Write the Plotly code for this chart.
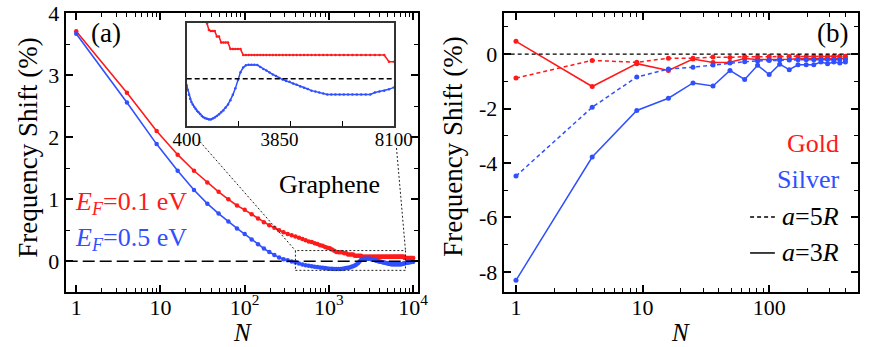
import math

import plotly.graph_objects as go

W, H = 872, 347
FONT = "Liberation Serif"
RED = "#ff1a1a"
BLUE = "#3050ff"

# --- panel (a): graphene, N = n^2 ---
n_sites_a = [
    1, 4, 9, 16, 25, 36, 49, 64, 81, 100,
    121, 144, 169, 196, 225, 256, 289, 324, 361, 400,
    441, 484, 529, 576, 625, 676, 729, 784, 841, 900,
    961, 1024, 1089, 1156, 1225, 1296, 1369, 1444, 1521, 1600,
    1681, 1764, 1849, 1936, 2025, 2116, 2209, 2304, 2401, 2500,
    2601, 2704, 2809, 2916, 3025, 3136, 3249, 3364, 3481, 3600,
    3721, 3844, 3969, 4096, 4225, 4356, 4489, 4624, 4761, 4900,
    5041, 5184, 5329, 5476, 5625, 5776, 5929, 6084, 6241, 6400,
    6561, 6724, 6889, 7056, 7225, 7396, 7569, 7744, 7921, 8100,
    8281, 8464, 8649, 8836, 9025, 9216, 9409, 9604, 9801, 10000,
]
shift_ef01 = [
    3.71, 2.72, 2.10, 1.72, 1.46, 1.27, 1.12, 1.00, 0.90, 0.83,
    0.76, 0.69, 0.63, 0.58, 0.54, 0.50, 0.47, 0.44, 0.42, 0.40,
    0.38, 0.36, 0.34, 0.32, 0.31, 0.29, 0.28, 0.26, 0.25, 0.23,
    0.22, 0.21, 0.19, 0.17, 0.15, 0.147, 0.147, 0.147, 0.13, 0.13,
    0.111, 0.111, 0.111, 0.111, 0.091, 0.091, 0.091, 0.091, 0.091, 0.073,
    0.073, 0.073, 0.073, 0.073, 0.073, 0.073, 0.073, 0.073, 0.073, 0.073,
    0.073, 0.073, 0.073, 0.073, 0.073, 0.073, 0.073, 0.073, 0.073, 0.073,
    0.073, 0.073, 0.073, 0.073, 0.073, 0.073, 0.073, 0.073, 0.073, 0.073,
    0.073, 0.073, 0.073, 0.073, 0.073, 0.073, 0.073, 0.073, 0.052, 0.052,
    0.052, 0.052, 0.052, 0.052, 0.052, 0.052, 0.052, 0.052, 0.052, 0.052,
]
shift_ef05 = [
    3.67, 2.56, 1.89, 1.46, 1.15, 0.93, 0.77, 0.64, 0.53, 0.44,
    0.35, 0.275, 0.205, 0.15, 0.10, 0.06, 0.035, 0.015, -0.004, -0.021,
    -0.035, -0.050, -0.063, -0.072, -0.080, -0.087, -0.093, -0.099, -0.104, -0.109,
    -0.115, -0.119, -0.122, -0.124, -0.126, -0.126, -0.123, -0.120, -0.115, -0.110,
    -0.104, -0.098, -0.089, -0.080, -0.067, -0.050, -0.030, -0.004, 0.020, 0.034,
    0.041, 0.043, 0.043, 0.043, 0.042, 0.036, 0.030, 0.025, 0.019, 0.013,
    0.008, 0.002, -0.003, -0.007, -0.010, -0.015, -0.019, -0.024, -0.028, -0.032,
    -0.037, -0.040, -0.043, -0.046, -0.049, -0.049, -0.049, -0.049, -0.049, -0.049,
    -0.049, -0.049, -0.049, -0.049, -0.049, -0.043, -0.040, -0.037, -0.033, -0.027,
    -0.024, -0.021, -0.019, -0.017, -0.015, -0.013, -0.011, -0.010, -0.009, -0.008,
]

# --- panel (b): gold / silver, a = 5R and a = 3R ---
n_sites_b = [1, 4, 9, 16, 25, 36, 49, 64, 81, 100,
             121, 144, 169, 196, 225, 256, 289, 324, 361, 400]
gold_5r = [-0.88, -0.23, -0.30, -0.15, -0.15, -0.11, -0.12, -0.09, -0.10, -0.09,
           -0.09, -0.09, -0.08, -0.09, -0.08, -0.08, -0.08, -0.08, -0.08, -0.08]
gold_3r = [0.47, -1.19, -0.35, -0.60, -0.18, -0.31, -0.30, -0.16, -0.20, -0.20,
           -0.18, -0.19, -0.17, -0.18, -0.17, -0.17, -0.16, -0.17, -0.16, -0.16]
silver_5r = [-4.48, -1.95, -0.84, -0.55, -0.48, -0.40, -0.33, -0.28, -0.25, -0.23,
             -0.22, -0.22, -0.21, -0.21, -0.21, -0.20, -0.20, -0.20, -0.20, -0.20]
silver_3r = [-8.31, -3.78, -2.07, -1.62, -1.06, -1.17, -0.60, -0.93, -0.41, -0.75,
             -0.37, -0.57, -0.39, -0.39, -0.39, -0.29, -0.35, -0.29, -0.33, -0.29]

# tick labels
a_xticks = [1, 10, 100, 1000, 10000]
a_xtext = ["1", "10", "10<sup>2</sup>", "10<sup>3</sup>", "10<sup>4</sup>"]
b_xticks = [1, 10, 100]
b_yticks = [-8, -6, -4, -2, 0]
b_ytext = ["-8", "-6", "-4", "-2", "0"]
inset_xticks = [400, 3850, 8100]

# plot areas in pixels (left, top, right, bottom)
BOX_A = (65.7, 13.3, 418.3, 292.3)
BOX_B = (503.7, 13.3, 857.7, 292.3)
BOX_IN = (186.7, 22.5, 393.8, 126.0)
A_XRANGE = (math.log10(0.75), math.log10(11500))
A_YRANGE = (-0.5, 4.0)
IN_YRANGE = (-0.146, 0.173)


def _xdom(box):
    return [box[0] / W, box[2] / W]


def _ydom(box):
    return [1 - box[3] / H, 1 - box[1] / H]


def _a_to_paper(n, v):
    fx = (math.log10(n) - A_XRANGE[0]) / (A_XRANGE[1] - A_XRANGE[0])
    fy = (v - A_YRANGE[0]) / (A_YRANGE[1] - A_YRANGE[0])
    xd, yd = _xdom(BOX_A), _ydom(BOX_A)
    return xd[0] + fx * (xd[1] - xd[0]), yd[0] + fy * (yd[1] - yd[0])


def _axis(**kw):
    base = dict(
        showline=True, linecolor="black", linewidth=2, mirror="allticks",
        ticks="inside", ticklen=7, tickwidth=1.5, tickcolor="black",
        showgrid=False, zeroline=False, automargin=False,
        tickfont=dict(family=FONT, size=22, color="black"),
    )
    base.update(kw)
    return base


def _minor(vals, length=4):
    return dict(ticks="inside", ticklen=length, tickwidth=1.2, tickcolor="black",
                tickvals=vals, showgrid=False)


fig = go.Figure()

# --- (a) main curves ---
for ys, color in ((shift_ef01, RED), (shift_ef05, BLUE)):
    fig.add_trace(go.Scatter(
        x=n_sites_a, y=ys, mode="lines+markers", xaxis="x", yaxis="y",
        line=dict(color=color, width=1.6), marker=dict(color=color, size=4.5),
        showlegend=False,
    ))

# --- (a) inset, same data on a linear axis ---
for ys, color in ((shift_ef01, RED), (shift_ef05, BLUE)):
    fig.add_trace(go.Scatter(
        x=n_sites_a, y=ys, mode="lines+markers", xaxis="x3", yaxis="y3",
        line=dict(color=color, width=1.5), marker=dict(color=color, size=2.5),
        cliponaxis=True, showlegend=False,
    ))

# --- (b) ---
for ys, color, dash in ((gold_5r, RED, "4px,3px"), (gold_3r, RED, "solid"),
                        (silver_5r, BLUE, "4px,3px"), (silver_3r, BLUE, "solid")):
    fig.add_trace(go.Scatter(
        x=n_sites_b, y=ys, mode="lines+markers", xaxis="x2", yaxis="y2",
        line=dict(color=color, width=1.5, dash=dash),
        marker=dict(color=color, size=5), showlegend=False,
    ))

a_minor_x = [m * d for d in (1, 10, 100, 1000) for m in range(2, 10)]
b_minor_x = [m * d for d in (1, 10) for m in range(2, 10)] + [200, 300, 400]

fig.update_layout(
    width=W, height=H,
    margin=dict(l=0, r=0, t=0, b=0, pad=0),
    paper_bgcolor="white", plot_bgcolor="white",
    font=dict(family=FONT, size=22, color="black"),
    xaxis=_axis(
        type="log", range=list(A_XRANGE), domain=_xdom(BOX_A), anchor="y",
        tickvals=a_xticks, ticktext=a_xtext, minor=_minor(a_minor_x),
        ticklabelstandoff=-6,
    ),
    yaxis=_axis(
        range=list(A_YRANGE), domain=_ydom(BOX_A), anchor="x",
        tickvals=[0, 1, 2, 3, 4], minor=_minor([-0.5, 0.5, 1.5, 2.5, 3.5]),
    ),
    xaxis2=_axis(
        type="log", range=[math.log10(0.8), math.log10(500)], domain=_xdom(BOX_B),
        anchor="y2", tickvals=b_xticks, ticktext=["1", "10", "100"],
        minor=_minor(b_minor_x), ticklabelstandoff=-6,
    ),
    yaxis2=_axis(
        range=[-8.75, 1.5], domain=_ydom(BOX_B), anchor="x2",
        tickvals=b_yticks, ticktext=b_ytext, minor=_minor([-7, -5, -3, -1, 1]),
    ),
    xaxis3=_axis(
        range=[400, 8100], domain=_xdom(BOX_IN), anchor="y3",
        linewidth=1.5, linecolor="#333", mirror=True,
        tickvals=inset_xticks, ticks="", ticklabelstandoff=-5,
        minor=_minor([2325, 4250, 6175], length=5),
        tickfont=dict(family=FONT, size=19, color="black"),
    ),
    yaxis3=_axis(
        range=list(IN_YRANGE), domain=_ydom(BOX_IN), anchor="x3",
        linewidth=1.5, linecolor="#333", mirror=True,
        ticks="", showticklabels=False,
    ),
)

# --- reference lines, zoom box, legend samples ---
ax, ay = _a_to_paper(400, IN_YRANGE[1])
bx, _ = _a_to_paper(8100, IN_YRANGE[1])
shapes = [
    dict(type="line", xref="x domain", yref="y", x0=0, x1=1, y0=0, y1=0,
         line=dict(color="black", width=1.5, dash="12px,5px")),
    dict(type="line", xref="x2 domain", yref="y2", x0=0, x1=1, y0=0, y1=0,
         line=dict(color="black", width=1.3, dash="4px,3px")),
    dict(type="line", xref="x3 domain", yref="y3", x0=0, x1=1, y0=0, y1=0,
         line=dict(color="black", width=1.5, dash="5px,3px")),
    dict(type="rect", xref="x", yref="y",
         x0=400, x1=8100, y0=IN_YRANGE[0], y1=IN_YRANGE[1],
         line=dict(color="#222", width=1, dash="2px,2px")),
    dict(type="line", xref="paper", yref="paper",
         x0=200 / W, y0=1 - 141.7 / H, x1=ax, y1=ay,
         line=dict(color="#222", width=1, dash="2px,2px")),
    dict(type="line", xref="paper", yref="paper",
         x0=396.5 / W, y0=1 - 148 / H, x1=bx, y1=ay,
         line=dict(color="#222", width=1, dash="2px,2px")),
    dict(type="line", xref="x2 domain", yref="y2 domain", x0=0.696, x1=0.766,
         y0=0.27, y1=0.27, line=dict(color="black", width=1.5, dash="4px,3px")),
    dict(type="line", xref="x2 domain", yref="y2 domain", x0=0.696, x1=0.766,
         y0=0.141, y1=0.141, line=dict(color="black", width=1.5)),
]
fig.update_layout(shapes=shapes)


def _note(text, x, y, xref="paper", yref="paper", size=26, color="black",
          xanchor="center", angle=0):
    fig.add_annotation(text=text, x=x, y=y, xref=xref, yref=yref, showarrow=False,
                       xanchor=xanchor, yanchor="middle", textangle=angle,
                       font=dict(family=FONT, size=size, color=color))


# axis titles
_note("Frequency Shift (%)", 27.7 / W, 1 - 148 / H, size=27, angle=-90)
_note("Frequency Shift (%)", 452.7 / W, 1 - 147 / H, size=27, angle=-90)
_note("<i>N</i>", sum(_xdom(BOX_A)) / 2, 1 - 332 / H, size=25)
_note("<i>N</i>", sum(_xdom(BOX_B)) / 2, 1 - 332 / H, size=25)

_note("(a)", 0.113, 0.928, "x domain", "y domain", size=27)
_note("Graphene", 0.749, 0.388, "x domain", "y domain")
_note("<i>E<sub>F</sub></i>=0.1 eV", 0.02, 0.32, "x domain", "y domain",
      color=RED, xanchor="left")
_note("<i>E<sub>F</sub></i>=0.5 eV", 0.02, 0.19, "x domain", "y domain",
      color=BLUE, xanchor="left")
_note("(b)", 0.929, 0.929, "x2 domain", "y2 domain", size=27)
_note("Gold", 0.953, 0.535, "x2 domain", "y2 domain", color=RED, xanchor="right")
_note("Silver", 0.953, 0.403, "x2 domain", "y2 domain", color=BLUE, xanchor="right")
_note("<i>a</i>=5<i>R</i>", 0.953, 0.27, "x2 domain", "y2 domain", xanchor="right")
_note("<i>a</i>=3<i>R</i>", 0.953, 0.141, "x2 domain", "y2 domain", xanchor="right")

# the page body has a default 8px margin; drop it so the figure fills the window
fig.write_html("out.html", config={"displayModeBar": False},
               post_script="document.body.style.margin = '0';")
